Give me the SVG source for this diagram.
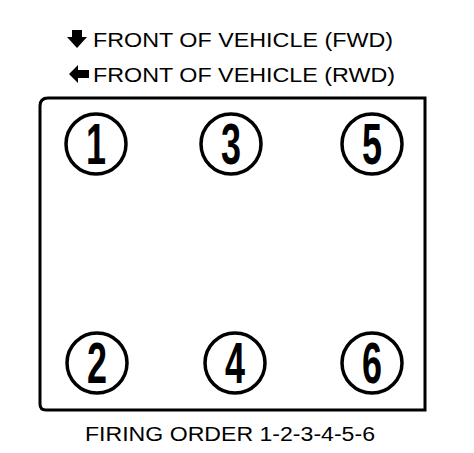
<svg xmlns="http://www.w3.org/2000/svg" width="474" height="453" viewBox="0 0 474 453">
<style>
.lbl{font-family:"Liberation Sans",Arial,sans-serif;font-size:20px;fill:#000}
.cyl circle{fill:#fff;stroke:#000;stroke-width:3.5}
.num{font-family:"Liberation Sans",Arial,sans-serif;font-weight:bold;font-size:58px;fill:#000;text-anchor:middle}
</style>
<rect width="474" height="453" fill="#fff"/>
<g id="header">
<path d="M72,30 H82 V37 H87 L77,48 L67,37 H72 Z" fill="#000"/>
<text class="lbl" x="93" y="47" textLength="300" lengthAdjust="spacingAndGlyphs">FRONT OF VEHICLE (FWD)</text>
<path d="M89,70 V78 H78 V83 L69,74 L78,65 V70 Z" fill="#000"/>
<text class="lbl" x="93" y="82" textLength="302" lengthAdjust="spacingAndGlyphs">FRONT OF VEHICLE (RWD)</text>
</g>
<g id="block">
<path d="M48,98 H425 V410 H46 Q40,410 40,404 V106 Q40,98 48,98 Z" fill="none" stroke="#000" stroke-width="3"/>
</g>
<g id="cyl1" class="cyl"><circle cx="96" cy="144" r="30"/><text class="num" transform="translate(96,164) scale(0.62,1)">1</text></g>
<g id="cyl3" class="cyl"><circle cx="231" cy="144" r="30"/><text class="num" transform="translate(231,164) scale(0.62,1)">3</text></g>
<g id="cyl5" class="cyl"><circle cx="372" cy="144" r="30"/><text class="num" transform="translate(372,164) scale(0.62,1)">5</text></g>
<g id="cyl2" class="cyl"><circle cx="97" cy="363" r="30"/><text class="num" transform="translate(97,383) scale(0.62,1)">2</text></g>
<g id="cyl4" class="cyl"><circle cx="235" cy="363" r="30"/><text class="num" transform="translate(235,383) scale(0.62,1)">4</text></g>
<g id="cyl6" class="cyl"><circle cx="372" cy="363" r="30"/><text class="num" transform="translate(372,383) scale(0.62,1)">6</text></g>
<g id="footer">
<text class="lbl" x="85" y="441" textLength="290" lengthAdjust="spacingAndGlyphs">FIRING ORDER 1-2-3-4-5-6</text>
</g>
<g id="connectors"/>
</svg>
